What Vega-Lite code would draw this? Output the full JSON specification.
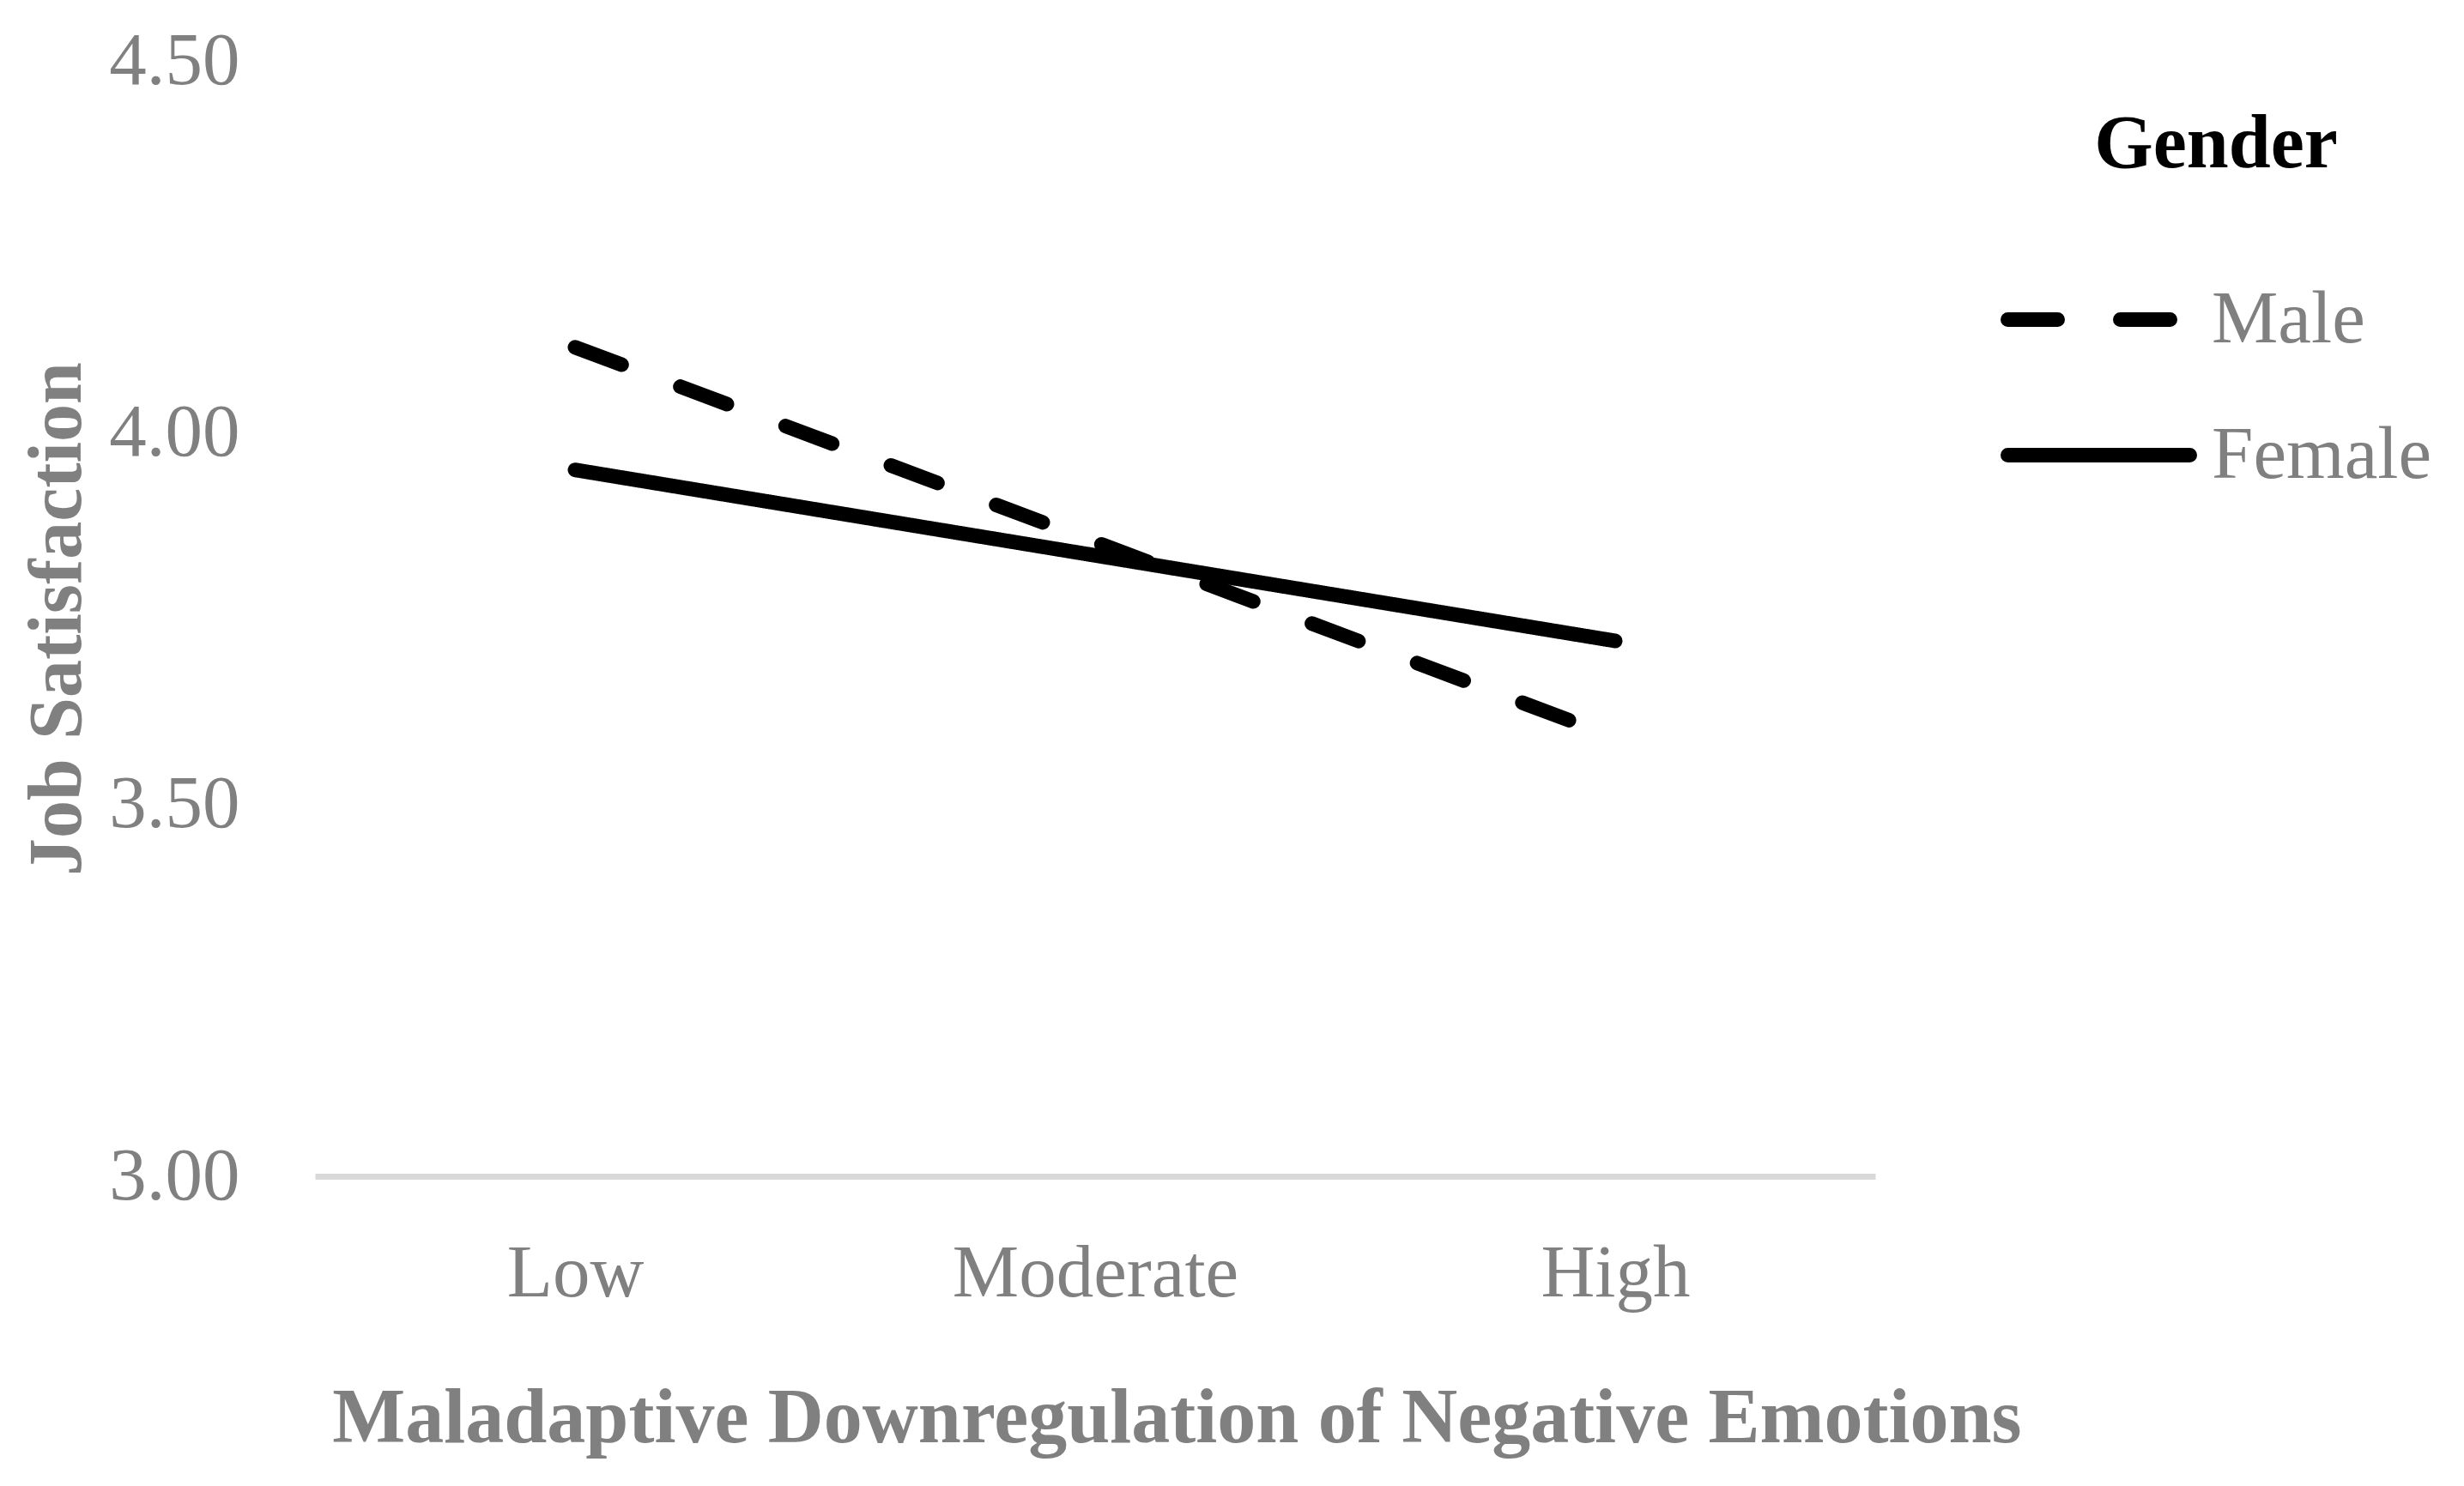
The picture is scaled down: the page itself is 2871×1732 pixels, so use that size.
{
  "$schema": "https://vega.github.io/schema/vega-lite/v6.json",
  "width": 1818,
  "height": 1300,
  "autosize": {"type": "none"},
  "padding": {"left": 367, "top": 71, "right": 686, "bottom": 361},
  "background": "white",
  "config": {"view": {"stroke": null}, "font": "Liberation Serif"},
  "data": {
    "values": [
      {"Level": "Low", "Gender": "Male", "JobSatisfaction": 4.115},
      {"Level": "Moderate", "Gender": "Male", "JobSatisfaction": 3.853},
      {"Level": "High", "Gender": "Male", "JobSatisfaction": 3.59},
      {"Level": "Low", "Gender": "Female", "JobSatisfaction": 3.95},
      {"Level": "Moderate", "Gender": "Female", "JobSatisfaction": 3.835},
      {"Level": "High", "Gender": "Female", "JobSatisfaction": 3.72}
    ]
  },
  "mark": {"type": "line", "color": "black", "strokeWidth": 17, "strokeCap": "round"},
  "encoding": {
    "x": {
      "field": "Level",
      "type": "ordinal",
      "sort": ["Low", "Moderate", "High"],
      "scale": {"type": "point", "padding": 0.5},
      "axis": {
        "title": "Maladaptive Downregulation of Negative Emotions",
        "titleFont": "Liberation Serif",
        "titleFontSize": 90,
        "titleFontWeight": "bold",
        "titleColor": "#808080",
        "titlePadding": 82,
        "titleX": 1004,
        "titleAlign": "center",
        "titleLimit": 0,
        "labelFont": "Liberation Serif",
        "labelFontSize": 87,
        "labelColor": "#808080",
        "labelAngle": 0,
        "labelBaseline": "alphabetic",
        "labelPadding": 139,
        "labelLimit": 0,
        "ticks": false,
        "tickSize": 0,
        "domain": true,
        "domainColor": "#d9d9d9",
        "domainWidth": 7,
        "grid": false
      }
    },
    "y": {
      "field": "JobSatisfaction",
      "type": "quantitative",
      "scale": {"domain": [3, 4.5], "nice": false, "zero": false},
      "axis": {
        "title": "Job Satisfaction",
        "titleFont": "Liberation Serif",
        "titleFontSize": 88,
        "titleFontWeight": "bold",
        "titleColor": "#808080",
        "titleBaseline": "alphabetic",
        "titlePadding": 74,
        "titleLimit": 0,
        "values": [3, 3.5, 4, 4.5],
        "format": ".2f",
        "labelFont": "Liberation Serif",
        "labelFontSize": 87,
        "labelColor": "#808080",
        "labelPadding": 88,
        "ticks": false,
        "tickSize": 0,
        "domain": false,
        "grid": false
      }
    },
    "strokeDash": {
      "field": "Gender",
      "type": "nominal",
      "scale": {"domain": ["Male", "Female"], "range": [[58, 73], [1, 0]]},
      "legend": {
        "title": "Gender",
        "orient": "none",
        "legendX": 1964,
        "legendY": 54,
        "titleFont": "Liberation Serif",
        "titleFontSize": 88,
        "titleFontWeight": "bold",
        "titleColor": "black",
        "titleAnchor": "middle",
        "titlePadding": 45,
        "titleLimit": 0,
        "labelFont": "Liberation Serif",
        "labelFontSize": 87,
        "labelColor": "#808080",
        "labelOffset": 17,
        "labelLimit": 0,
        "symbolType": "stroke",
        "symbolSize": 44944,
        "symbolStrokeWidth": 17,
        "symbolStrokeColor": "black",
        "rowPadding": 0,
        "encode": {"symbols": {"update": {"strokeCap": {"value": "round"}}}}
      }
    }
  }
}
